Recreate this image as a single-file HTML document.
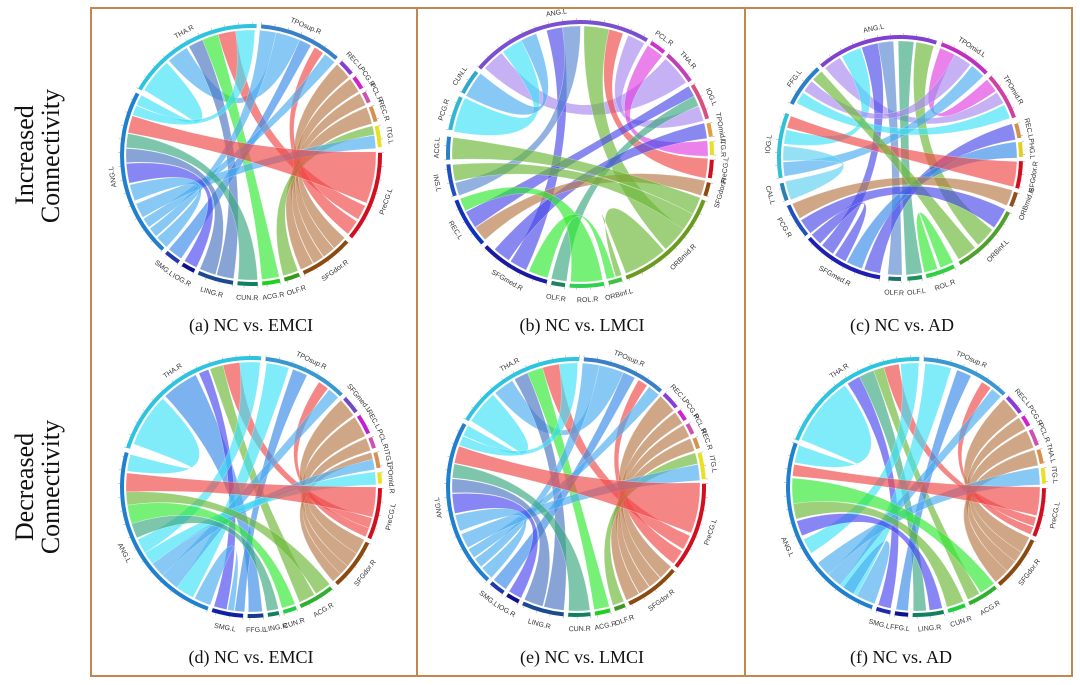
<!DOCTYPE html>
<html><head><meta charset="utf-8">
<style>
html,body{margin:0;padding:0;background:#fff;}
svg{display:block;}
.cap{font-family:"Liberation Serif",serif;font-size:18px;fill:#111;text-anchor:middle;}
.side{font-family:"Liberation Serif",serif;font-size:26px;fill:#111;text-anchor:middle;}
.lbl text{font-family:"Liberation Sans",sans-serif;font-size:7px;fill:#333;text-anchor:middle;}
</style></head><body>
<svg id="s" width="1080" height="685" viewBox="0 0 1080 685" xmlns="http://www.w3.org/2000/svg">
<rect x="0" y="0" width="1080" height="685" fill="#fff"/>
<g id="chords"></g>
<g id="rings"></g>
<g fill="none" stroke="#c4864f" stroke-width="2">
<rect x="91" y="8" width="326" height="668"/>
<rect x="417" y="8" width="328" height="668"/>
<rect x="745" y="8" width="327" height="668"/>
</g>
<text class="side" transform="translate(33,155) rotate(-90)">Increased</text>
<text class="side" transform="translate(59,156) rotate(-90)">Connectivity</text>
<text class="side" transform="translate(33,487) rotate(-90)">Decreased</text>
<text class="side" transform="translate(59,487) rotate(-90)">Connectivity</text>

<text class="cap" x="251" y="331">(a) NC vs. EMCI</text>
<text class="cap" x="582" y="331">(b) NC vs. LMCI</text>
<text class="cap" x="902" y="331">(c) NC vs. AD</text>
<text class="cap" x="251" y="663">(d) NC vs. EMCI</text>
<text class="cap" x="582" y="663">(e) NC vs. LMCI</text>
<text class="cap" x="901" y="663">(f) NC vs. AD</text>

<!-- (a) labels -->
<g class="lbl" transform="translate(251,155)">
<text transform="rotate(331.5) translate(0,-138)">THA.R</text>
<text transform="rotate(23) translate(0,-138)">TPOsup.R</text>
<text transform="rotate(47.5) translate(0,-138)">REC.L</text>
<text transform="rotate(56) translate(0,-138)">PCG.R</text>
<text transform="rotate(63.5) translate(0,-138)">PCL.R</text>
<text transform="rotate(71.5) translate(0,-138)">REC.R</text>
<text transform="rotate(82) translate(0,-138)">ITG.L</text>
<text transform="rotate(-71) translate(0,145)">PreCG.L</text>
<text transform="rotate(-36) translate(0,145)">SFGdor.R</text>
<text transform="rotate(-18.5) translate(0,145)">OLF.R</text>
<text transform="rotate(-9) translate(0,145)">ACG.R</text>
<text transform="rotate(1.5) translate(0,145)">CUN.R</text>
<text transform="rotate(16) translate(0,145)">LING.R</text>
<text transform="rotate(29) translate(0,145)">IOG.R</text>
<text transform="rotate(37.5) translate(0,145)">SMG.L</text>
<text transform="rotate(261) translate(0,-138)">ANG.L</text>
</g>

<!-- (b) labels -->
<g class="lbl" transform="translate(580,154)">
<text transform="rotate(350.5) translate(0,-141)">ANG.L</text>
<text transform="rotate(36) translate(0,-141)">PCL.R</text>
<text transform="rotate(49) translate(0,-141)">THA.R</text>
<text transform="rotate(66.5) translate(0,-141)">IOG.L</text>
<text transform="rotate(79.5) translate(0,-141)">TPOmid.L</text>
<text transform="rotate(87.5) translate(0,-141)">ITG.R</text>
<text transform="rotate(-83.5) translate(0,148)">PreCG.L</text>
<text transform="rotate(-74.5) translate(0,148)">SFGdor.R</text>
<text transform="rotate(-45) translate(0,148)">ORBmid.R</text>
<text transform="rotate(-15.5) translate(0,148)">ORBinf.L</text>
<text transform="rotate(-3) translate(0,148)">ROL.R</text>
<text transform="rotate(9.5) translate(0,148)">OLF.R</text>
<text transform="rotate(30) translate(0,148)">SFGmed.R</text>
<text transform="rotate(58.5) translate(0,148)">REC.L</text>
<text transform="rotate(78.5) translate(0,148)">INS.L</text>
<text transform="rotate(272.5) translate(0,-141)">ACG.L</text>
<text transform="rotate(288) translate(0,-141)">PCG.R</text>
<text transform="rotate(303) translate(0,-141)">CUN.L</text>
</g>

<!-- (c) labels -->
<g class="lbl" transform="translate(900,158)">
<text transform="rotate(348.5) translate(0,-130)">ANG.L</text>
<text transform="rotate(33) translate(0,-130)">TPOmid.L</text>
<text transform="rotate(59) translate(0,-130)">TPOmid.R</text>
<text transform="rotate(77) translate(0,-130)">REC.L</text>
<text transform="rotate(86) translate(0,-130)">PHG.L</text>
<text transform="rotate(-82) translate(0,137)">SFGdor.R</text>
<text transform="rotate(-70) translate(0,137)">ORBmid.R</text>
<text transform="rotate(-46.5) translate(0,137)">ORBinf.L</text>
<text transform="rotate(-19.5) translate(0,137)">ROL.R</text>
<text transform="rotate(-7) translate(0,137)">OLF.L</text>
<text transform="rotate(2.5) translate(0,137)">OLF.R</text>
<text transform="rotate(29) translate(0,137)">SFGmed.R</text>
<text transform="rotate(59) translate(0,137)">PCG.R</text>
<text transform="rotate(74) translate(0,137)">CAL.L</text>
<text transform="rotate(276) translate(0,-130)">IOG.L</text>
<text transform="rotate(307) translate(0,-130)">FFG.L</text>
</g>

<!-- (d) labels -->
<g class="lbl" transform="translate(251,487)">
<text transform="rotate(326) translate(0,-138)">THA.R</text>
<text transform="rotate(25.5) translate(0,-138)">TPOsup.R</text>
<text transform="rotate(50.5) translate(0,-138)">SFGmed.L</text>
<text transform="rotate(61) translate(0,-138)">REC.L</text>
<text transform="rotate(70) translate(0,-138)">PCL.R</text>
<text transform="rotate(78) translate(0,-138)">ITG.L</text>
<text transform="rotate(86) translate(0,-138)">TPOmid.R</text>
<text transform="rotate(-78) translate(0,145)">PreCG.L</text>
<text transform="rotate(-53) translate(0,145)">SFGdor.R</text>
<text transform="rotate(-30.5) translate(0,145)">ACG.R</text>
<text transform="rotate(-17.5) translate(0,145)">CUN.R</text>
<text transform="rotate(-10) translate(0,145)">LING.R</text>
<text transform="rotate(-2) translate(0,145)">FFG.L</text>
<text transform="rotate(10.5) translate(0,145)">SMG.L</text>
<text transform="rotate(62.5) translate(0,145)">ANG.L</text>
</g>

<!-- (e) labels -->
<g class="lbl" transform="translate(576,487)">
<text transform="rotate(331.5) translate(0,-137)">THA.R</text>
<text transform="rotate(22.5) translate(0,-137)">TPOsup.R</text>
<text transform="rotate(47.5) translate(0,-137)">REC.L</text>
<text transform="rotate(56) translate(0,-137)">PCG.R</text>
<text transform="rotate(63) translate(0,-137)">PCL.R</text>
<text transform="rotate(70) translate(0,-137)">REC.R</text>
<text transform="rotate(80.5) translate(0,-137)">ITG.L</text>
<text transform="rotate(-71.5) translate(0,144)">PreCG.L</text>
<text transform="rotate(-37) translate(0,144)">SFGdor.R</text>
<text transform="rotate(-20) translate(0,144)">OLF.R</text>
<text transform="rotate(-12) translate(0,144)">ACG.R</text>
<text transform="rotate(-1.5) translate(0,144)">CUN.R</text>
<text transform="rotate(15) translate(0,144)">LING.R</text>
<text transform="rotate(29.5) translate(0,144)">IOG.R</text>
<text transform="rotate(38) translate(0,144)">SMG.L</text>
<text transform="rotate(261.5) translate(0,-137)">ANG.L</text>
</g>

<!-- (f) labels -->
<g class="lbl" transform="translate(916,487)">
<text transform="rotate(326.5) translate(0,-137)">THA.R</text>
<text transform="rotate(23.5) translate(0,-137)">TPOsup.R</text>
<text transform="rotate(50) translate(0,-137)">REC.L</text>
<text transform="rotate(59) translate(0,-137)">PCG.R</text>
<text transform="rotate(67) translate(0,-137)">PCL.R</text>
<text transform="rotate(76) translate(0,-137)">THA.L</text>
<text transform="rotate(85) translate(0,-137)">ITG.L</text>
<text transform="rotate(-78.5) translate(0,144)">PreCG.L</text>
<text transform="rotate(-53) translate(0,144)">SFGdor.R</text>
<text transform="rotate(-31.5) translate(0,144)">ACG.R</text>
<text transform="rotate(-18.5) translate(0,144)">CUN.R</text>
<text transform="rotate(-5.5) translate(0,144)">LING.R</text>
<text transform="rotate(6.5) translate(0,144)">FFG.L</text>
<text transform="rotate(15) translate(0,144)">SMG.L</text>
<text transform="rotate(65) translate(0,144)">ANG.L</text>
</g>
</svg>
<script>
(function(){
var NS="http://www.w3.org/2000/svg";
var C={cy:"#3ee0f6",lb:"#4aacf0",sb:"#4a74c0",gr:"#30e830",rd:"#f04848",br:"#b87a48",ol:"#6cb838",tl:"#3aa880",pu:"#4a48ee",bl:"#3a8ae8",lp:"#a888f0",mg:"#e040e0",vb:"#4a4ae8",st:"#5a88d0",lc:"#60d0f0"};
var A=[
[0,.02,.28,15,.93,.995,"cy"],
[1,.2,.5,0,.30,.46,"lb"],
[0,.48,.59,12,.03,.5,"sb"],
[0,.59,.71,10,.05,.95,"gr"],
[0,.71,.84,7,.614,.783,"rd"],
[0,.84,.98,15,.865,.925,"cy"],
[1,0,.2,15,.09,.15,"lb"],
[1,.5,.65,14,.06,.94,"bl"],
[1,.7,.82,7,.81,.98,"rd"],
[1,.85,1,15,.16,.22,"lb"],
[2,0,1,8,0,.27,"br"],
[3,0,1,8,.28,.52,"br"],
[4,0,1,8,.53,.74,"br"],
[5,0,1,8,.75,1,"br"],
[6,0,.4,9,.05,.95,"ol"],
[6,.42,1,15,.23,.32,"lb"],
[7,0,.58,15,.755,.86,"rd"],
[11,.05,.95,15,.665,.75,"tl"],
[12,.53,.98,15,.575,.66,"sb"],
[13,.05,.95,15,.45,.57,"pu"],
[15,.34,.44,15,0,.08,"lb"]
];
var D=[
[0,.04,.36,14,.90,.99,"cy"],
[0,.38,.60,12,.1,.9,"bl"],
[0,.62,.68,13,.55,.95,"pu"],
[0,.69,.77,9,.5,.95,"ol"],
[0,.77,.87,7,.6,.8,"rd"],
[0,.87,.99,14,.45,.53,"cy"],
[1,.03,.30,14,.10,.20,"cy"],
[1,.35,.53,13,0,.3,"bl"],
[1,.69,.82,7,.8,.98,"rd"],
[1,.84,.98,14,.20,.30,"lb"],
[2,0,1,8,0,.3,"br"],
[3,0,1,8,.3,.6,"br"],
[4,0,1,8,.6,.8,"br"],
[5,0,.4,8,.8,1,"br"],
[5,.4,1,14,.30,.38,"lb"],
[6,0,1,14,.38,.45,"cy"],
[7,0,.58,14,.79,.89,"rd"],
[9,0,.45,14,.72,.79,"ol"],
[10,.05,.95,14,.62,.72,"gr"],
[11,.05,.95,14,.54,.62,"tl"],
[14,0,.09,13,.32,.52,"lb"]
];
var F=[
[0,.02,.48,14,.9,.99,"cy"],
[0,.50,.59,13,.1,.9,"pu"],
[0,.59,.69,11,.55,.95,"tl"],
[0,.69,.76,9,.55,.95,"ol"],
[0,.76,.86,7,.62,.8,"rd"],
[0,.87,.99,14,.42,.5,"cy"],
[1,.03,.33,14,.1,.2,"cy"],
[1,.4,.57,12,.1,.9,"bl"],
[1,.71,.83,7,.82,.98,"rd"],
[1,.85,.98,14,.2,.28,"lb"],
[2,0,1,8,0,.3,"br"],
[3,0,1,8,.3,.5,"br"],
[4,0,1,8,.5,.72,"br"],
[5,0,1,8,.72,1,"br"],
[6,0,1,14,.28,.36,"lb"],
[7,0,.58,14,.83,.89,"rd"],
[9,0,.5,14,.69,.82,"gr"],
[10,.05,.95,14,.61,.69,"ol"],
[11,.05,.45,14,.52,.6,"pu"],
[14,0,.1,14,.12,.18,"lb"]
];
var B=[
[0,.025,.15,2,.06,.94,"lp"],
[16,0,1,0,.16,.28,"cy"],
[17,0,1,0,.28,.37,"lb"],
[0,.43,.52,12,.34,.59,"vb"],
[0,.52,.62,14,0,.4,"st"],
[0,.64,.78,8,.32,.56,"ol"],
[0,.78,.86,6,0,1,"rd"],
[0,.89,.99,3,.59,1,"lp"],
[1,0,1,5,0,1,"mg"],
[3,0,.3,13,.35,.7,"vb"],
[11,0,1,3,.3,.58,"tl"],
[4,0,1,12,.62,.87,"vb"],
[7,0,1,13,.04,.34,"br"],
[8,0,.16,15,.05,.95,"ol"],
[8,.16,.32,14,.45,.95,"ol"],
[8,.58,.98,9,0,.4,"ol"],
[10,.05,.95,13,.72,.98,"gr"],
[9,.45,1,12,.02,.3,"gr"]
];
var Cc=[
[0,.02,.17,2,.36,.62,"lp"],
[0,.19,.36,14,.53,.75,"cy"],
[0,.37,.51,11,.65,.82,"vb"],
[10,0,1,0,.51,.64,"st"],
[0,.68,.81,9,0,1,"tl"],
[0,.83,.98,7,.34,.63,"ol"],
[1,.02,.32,2,.02,.32,"mg"],
[1,.32,.66,15,.41,.68,"lp"],
[1,.70,.98,14,.03,.25,"lb"],
[15,.09,.36,2,.66,.96,"cy"],
[3,0,1,11,.02,.22,"vb"],
[4,0,1,11,.25,.45,"bl"],
[5,.05,.95,14,.78,.97,"rd"],
[6,0,1,12,.51,.97,"br"],
[15,.73,.99,7,.69,.97,"ol"],
[8,0,.45,8,.55,1,"gr"],
[11,.47,.62,11,.85,1,"vb"],
[12,0,.45,7,0,.3,"vb"],
[13,0,1,14,.27,.5,"lc"]
];
var segA=[[300,363,"#2ec4e0"],[4,42,"#3a80c8"],[43.5,51.5,"#8a3cd8"],[52.5,59.5,"#d020d0"],[60.5,66.5,"#d050b0"],[67.5,75.5,"#d89050"],[76.5,87,"#e8e020"],[88.5,130,"#d01020"],[131.5,156.5,"#8b4a10"],[157.5,165.5,"#3a9a20"],[166.5,175.5,"#20d020"],[176.5,186.5,"#108060"],[187.5,204.5,"#1a4a90"],[205.5,212.5,"#10108a"],[213.5,221.5,"#2038b0"],[222.5,299,"#2080d0"]];
var segE=[[301,362,"#2ec4e0"],[3,42,"#3a80c8"],[43,52,"#8a3cd8"],[53,59,"#d020d0"],[60,66,"#d050b0"],[67,73,"#d89050"],[74,87,"#e8e020"],[88,129,"#d01020"],[130,156,"#8b4a10"],[157,163,"#3a9a20"],[164,172,"#20d020"],[173,184,"#108060"],[185,205,"#1a4a90"],[206,213,"#10108a"],[214,222,"#2038b0"],[223,300,"#2080d0"]];
var segD=[[287,365,"#2ec4e0"],[6,45,"#3a98d0"],[46,55,"#7048c8"],[56,66,"#c020d0"],[67,73,"#d050b0"],[74,82,"#d89050"],[83,89,"#e8e020"],[90,114,"#d01020"],[115,139,"#8b4a10"],[141,158,"#30b030"],[159,166,"#20d040"],[167,173,"#108060"],[174,182,"#1a3a90"],[183,198,"#1020a0"],[199,286,"#2080d0"]];
var segF=[[291,362,"#2ec4e0"],[3,44,"#3a98d0"],[45,55,"#8a3cd8"],[56,62,"#d020d0"],[63,71.5,"#d050b0"],[72.5,80,"#d89050"],[81,89,"#e8e020"],[90,113,"#d01020"],[114,140,"#8b4a10"],[141,156,"#30b030"],[157,166,"#20d040"],[167,182,"#108060"],[183,190,"#10108a"],[191,198.5,"#1a2ab0"],[199.5,290.5,"#2080d0"]];
var segB=[[310,391,"#7a50d0"],[32,40,"#d030d0"],[41,57,"#c040b8"],[58,75,"#d85080"],[76,83,"#e0a040"],[84,91,"#e8e020"],[92,101,"#d01020"],[102,109,"#8b4a10"],[110,160,"#6a9a20"],[161,168,"#40c040"],[169,185,"#30d050"],[186,193,"#208060"],[194,226,"#1a1aa0"],[227,250,"#1030c0"],[251,266,"#2050c0"],[267,278,"#2a80c8"],[280,296,"#30b8d0"],[297,309,"#30a8c8"]];
var segC=[[319,378,"#8040d0"],[19.5,46,"#c030c0"],[47.5,71,"#d040a0"],[73,81,"#d09050"],[82,90,"#e0d020"],[91,105,"#d01020"],[106,114,"#905020"],[116,151,"#50a030"],[153,168,"#30d040"],[169,177,"#209060"],[179,186,"#207070"],[189,229,"#2020b0"],[230,247.5,"#2050c0"],[249,258.5,"#2a80b0"],[260,292,"#30c0d8"],[296,318,"#2a80c8"]];
var P=[
{cx:251,cy:155,R:131,s:segA,r:A},
{cx:580,cy:154,R:134,s:segB,r:B},
{cx:900,cy:158,R:123,s:segC,r:Cc},
{cx:251,cy:487,R:131,s:segD,r:D},
{cx:576,cy:487,R:130,s:segE,r:A},
{cx:916,cy:487,R:130,s:segF,r:F}
];
function pt(p,r,a){var t=a*Math.PI/180;return [p.cx+r*Math.sin(t),p.cy-r*Math.cos(t)];}
function f(x){return x[0].toFixed(2)+" "+x[1].toFixed(2);}
function ang(p,i,fr){var s=p.s[i];return s[0]+(s[1]-s[0])*fr;}
var gC=document.getElementById("chords"),gR=document.getElementById("rings");
P.forEach(function(p){
  var r=p.R-6;
  p.r.forEach(function(q){
    var a1=ang(p,q[0],q[1]),a2=ang(p,q[0],q[2]),b1=ang(p,q[3],q[4]),b2=ang(p,q[3],q[5]);
    var la=(a2-a1)>180?1:0,lb=(b2-b1)>180?1:0;
    var d="M"+f(pt(p,r,a1))+"A"+r+" "+r+" 0 "+la+" 1 "+f(pt(p,r,a2))+"Q"+p.cx+" "+p.cy+" "+f(pt(p,r,b1))+"A"+r+" "+r+" 0 "+lb+" 1 "+f(pt(p,r,b2))+"Q"+p.cx+" "+p.cy+" "+f(pt(p,r,a1))+"Z";
    var e=document.createElementNS(NS,"path");
    e.setAttribute("d",d);e.setAttribute("fill",C[q[6]]);e.setAttribute("fill-opacity","0.66");
    e.setAttribute("stroke","#ffffff");e.setAttribute("stroke-width","0.4");e.setAttribute("stroke-opacity","0.6");
    gC.appendChild(e);
  });
  p.s.forEach(function(s){
    var a1=s[0]+0.5,a2=s[1]-0.5,Ro=p.R,Ri=p.R-4;
    var l=(a2-a1)>180?1:0;
    var d="M"+f(pt(p,Ro,a1))+"A"+Ro+" "+Ro+" 0 "+l+" 1 "+f(pt(p,Ro,a2))+"L"+f(pt(p,Ri,a2))+"A"+Ri+" "+Ri+" 0 "+l+" 0 "+f(pt(p,Ri,a1))+"Z";
    var e=document.createElementNS(NS,"path");
    e.setAttribute("d",d);e.setAttribute("fill",s[2]);
    gR.appendChild(e);
    for(var a=a1;a<=a2+0.01;a+=6){
      var t=document.createElementNS(NS,"line");
      var u=pt(p,Ro,a),v=pt(p,Ro+2,a);
      t.setAttribute("x1",u[0]);t.setAttribute("y1",u[1]);t.setAttribute("x2",v[0]);t.setAttribute("y2",v[1]);
      t.setAttribute("stroke","#999");t.setAttribute("stroke-width","0.5");
      gR.appendChild(t);
    }
  });
});
})();
</script>
</body></html>
